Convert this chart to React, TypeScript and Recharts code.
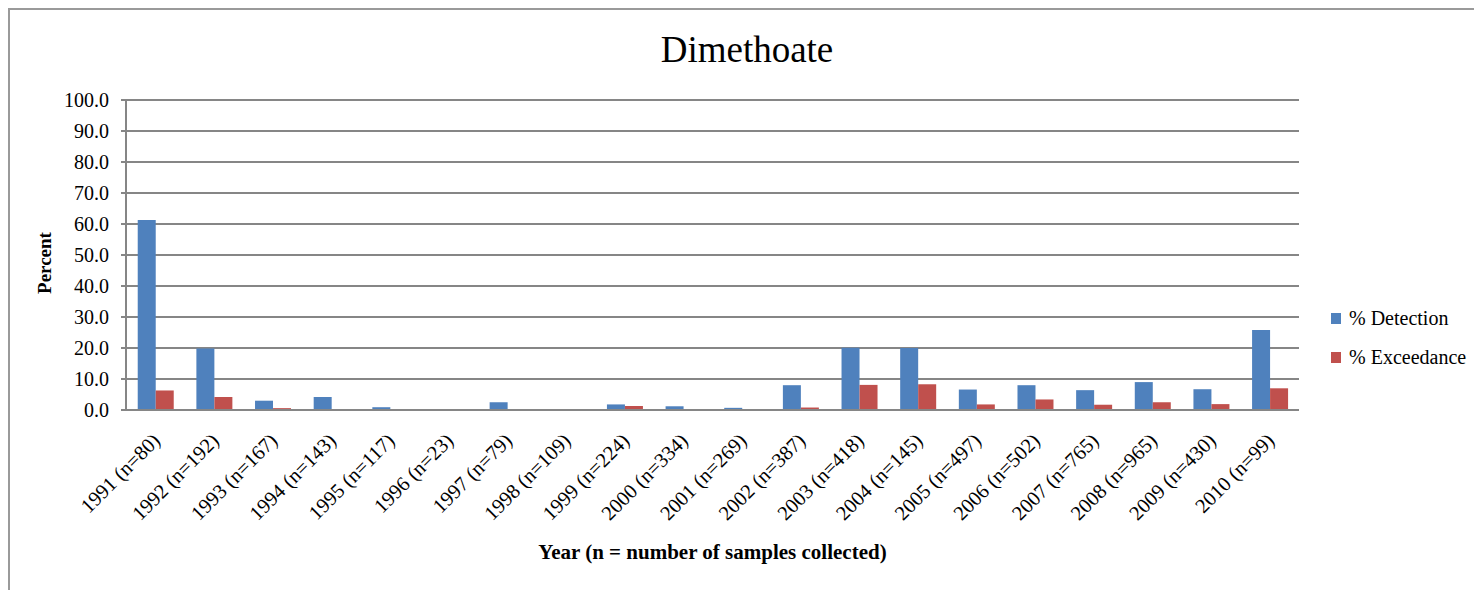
import React from 'react';
import { BarChart, Bar, XAxis, YAxis, CartesianGrid, Label } from 'recharts';

const years = ['1991', '1992', '1993', '1994', '1995', '1996', '1997', '1998', '1999', '2000',
    '2001', '2002', '2003', '2004', '2005', '2006', '2007', '2008', '2009', '2010'];
const sampleCounts = [80, 192, 167, 143, 117, 23, 79, 109, 224, 334,
    269, 387, 418, 145, 497, 502, 765, 965, 430, 99];
const detection = [61.3, 19.8, 3.0, 4.2, 0.9, 0, 2.5, 0, 1.8, 1.2,
    0.7, 8.0, 20.1, 20.0, 6.6, 8.0, 6.4, 9.0, 6.7, 25.8];
const exceedance = [6.3, 4.2, 0.6, 0, 0, 0, 0, 0, 1.3, 0,
    0, 0.8, 8.1, 8.3, 1.8, 3.4, 1.7, 2.5, 1.9, 7.0];
const yTicks = [0, 10, 20, 30, 40, 50, 60, 70, 80, 90, 100];

const SERIES = [
    { key: 'detection', name: '% Detection', color: '#4F81BD' },
    { key: 'exceedance', name: '% Exceedance', color: '#C0504D' },
];

const FONT = '"Liberation Serif", "Times New Roman", serif';
const GRID = '#868686';

const data = years.map((year, i) => ({
    label: `${year} (n=${sampleCounts[i]})`,
    detection: detection[i],
    exceedance: exceedance[i],
}));

// rotated category labels, anchored at their end just right of the category centre
const YearTick = ({ x, y, payload }: any) => {
    const px = x + 6;
    const py = y + 24;
    return (
        <text
            x={px}
            y={py}
            textAnchor="end"
            transform={`rotate(-45, ${px}, ${py})`}
            fontFamily={FONT}
            fontSize={20.5}
            fill="#000"
        >
            {payload.value}
        </text>
    );
};

export default function App() {
    return (
        <div style={{ position: 'absolute', left: 8, top: 8, width: 1466, height: 582 }}>
            <div
                style={{
                    position: 'absolute', left: 0, top: 0, width: 1466, height: 582,
                    boxSizing: 'border-box', borderLeft: '2px solid #9a9a9a', borderTop: '2px solid #9a9a9a',
                }}
            />
            <div
                style={{
                    position: 'absolute', left: 0, top: 23, width: 1478, textAlign: 'center',
                    fontFamily: FONT, fontSize: 37, lineHeight: 1, color: '#000',
                }}
            >
                Dimethoate
            </div>
            <div
                style={{
                    position: 'absolute', left: 1323, top: 291, width: 150,
                    fontFamily: FONT, fontSize: 20, color: '#000',
                }}
            >
                {SERIES.map(s => (
                    <div key={s.key} style={{ display: 'flex', alignItems: 'center', height: 39 }}>
                        <div style={{ width: 10, height: 11, background: s.color, marginRight: 8 }} />
                        <span>{s.name}</span>
                    </div>
                ))}
            </div>
            <BarChart
                width={1466}
                height={582}
                data={data}
                margin={{ top: 92, right: 175, bottom: 20, left: 48 }}
                barCategoryGap="20%"
                barGap={0}
                style={{ position: 'absolute', left: 0, top: 0 }}
            >
                <CartesianGrid vertical={false} stroke={GRID} strokeWidth={2} />
                <XAxis
                    dataKey="label"
                    height={160}
                    interval={0}
                    tick={<YearTick />}
                    tickLine={false}
                    axisLine={{ stroke: GRID, strokeWidth: 2 }}
                >
                    <Label
                        content={({ viewBox }: any) => (
                            <text
                                x={viewBox.x + viewBox.width / 2}
                                y={551}
                                textAnchor="middle"
                                fontFamily={FONT}
                                fontSize={21}
                                fontWeight="bold"
                                fill="#000"
                            >
                                Year (n = number of samples collected)
                            </text>
                        )}
                    />
                </XAxis>
                <YAxis
                    width={70}
                    domain={[0, 100]}
                    ticks={yTicks}
                    interval={0}
                    tickFormatter={(v: number) => v.toFixed(1)}
                    tick={{ fontFamily: FONT, fontSize: 20, fill: '#000' }}
                    tickSize={5}
                    tickMargin={12}
                    tickLine={{ stroke: GRID, strokeWidth: 2 }}
                    axisLine={{ stroke: GRID, strokeWidth: 2 }}
                >
                    <Label
                        content={() => (
                            <text
                                x={43}
                                y={255}
                                textAnchor="middle"
                                transform="rotate(-90, 43, 255)"
                                fontFamily={FONT}
                                fontSize={19}
                                fontWeight="bold"
                                fill="#000"
                            >
                                Percent
                            </text>
                        )}
                    />
                </YAxis>
                {SERIES.map(s => (
                    <Bar
                        key={s.key}
                        dataKey={s.key}
                        name={s.name}
                        fill={s.color}
                        isAnimationActive={false}
                    />
                ))}
            </BarChart>
        </div>
    );
}
